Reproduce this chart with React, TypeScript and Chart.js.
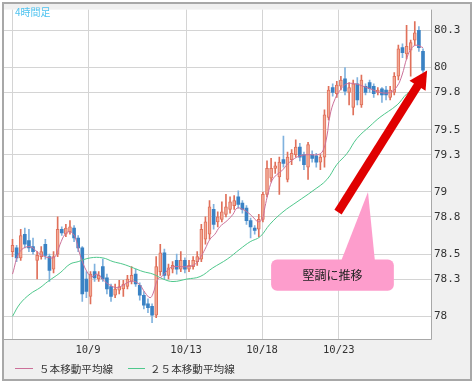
import React, { useEffect, useRef } from 'react';
import { Chart, registerables } from 'chart.js';

Chart.register(...registerables);

// ---- candle data (4-hour bars) ----
const opens = [
  78.52, 78.55, 78.47, 78.66, 78.61, 78.56, 78.45, 78.48, 78.58, 78.48,
  78.38, 78.50, 78.70, 78.66, 78.68, 78.71, 78.63, 78.55, 78.30, 78.16,
  78.36, 78.30, 78.40, 78.31, 78.24, 78.17, 78.21, 78.22, 78.24, 78.28,
  78.34, 78.25, 78.17, 78.10, 78.08, 78.01, 78.36, 78.51, 78.33, 78.38,
  78.45, 78.38, 78.45, 78.38, 78.40, 78.44, 78.46, 78.62, 78.66, 78.86,
  78.76, 78.78, 78.82, 78.86, 78.89, 78.96, 78.91, 78.87, 78.77, 78.71,
  78.70, 78.78, 78.98, 79.11, 79.19, 79.12, 79.26, 79.10, 79.26, 79.30,
  79.36, 79.30, 79.20, 79.30, 79.29, 79.24, 79.28, 79.60, 79.84, 79.79,
  79.85, 79.91, 79.80, 79.68, 79.87, 79.70, 79.85, 79.88, 79.85, 79.80,
  79.83, 79.82, 79.76, 79.80, 79.93, 80.16, 80.11, 80.14, 80.22, 80.30,
  80.13,
];
const highs = [
  78.62, 78.57, 78.70, 78.71, 78.70, 78.63, 78.52, 78.56, 78.62, 78.50,
  78.52, 78.80, 78.72, 78.74, 78.77, 78.73, 78.65, 78.56, 78.36, 78.36,
  78.42, 78.36, 78.46, 78.34, 78.26, 78.26, 78.29, 78.29, 78.33, 78.40,
  78.38, 78.27, 78.20, 78.14, 78.10, 78.48, 78.58, 78.54, 78.42, 78.44,
  78.50, 78.52, 78.47, 78.45, 78.48, 78.52, 78.74, 78.80, 78.93, 78.90,
  78.84, 78.92, 78.98, 78.96, 78.97, 79.01, 78.93, 78.89, 78.79, 78.73,
  78.82, 79.00, 79.25, 79.27, 79.24, 79.28, 79.45, 79.32, 79.34, 79.42,
  79.39, 79.32, 79.40, 79.33, 79.31, 79.30, 79.66, 79.85, 79.87, 79.89,
  79.93, 80.00, 79.88, 79.90, 79.92, 79.94, 79.87, 79.90, 79.87, 79.84,
  79.84, 79.85, 79.85, 79.96, 80.18, 80.19, 80.34, 80.22, 80.37, 80.33,
  80.15,
];
const lows = [
  78.48, 78.44, 78.45, 78.55, 78.52, 78.50, 78.30, 78.46, 78.46, 78.28,
  78.35, 78.48, 78.65, 78.64, 78.66, 78.60, 78.52, 78.12, 78.15, 78.10,
  78.28, 78.28, 78.28, 78.18, 78.12, 78.15, 78.18, 78.16, 78.22, 78.26,
  78.24, 78.13, 78.06, 78.03, 77.95, 77.99, 78.33, 78.30, 78.30, 78.35,
  78.34, 78.36, 78.35, 78.36, 78.38, 78.41, 78.44, 78.58, 78.62, 78.70,
  78.72, 78.76, 78.80, 78.83, 78.86, 78.87, 78.83, 78.74, 78.63, 78.66,
  78.64, 78.76, 78.96, 79.08, 79.15, 78.98, 79.20, 79.08, 79.22, 79.28,
  79.25, 79.18, 79.10, 79.24, 79.20, 79.18, 79.20, 79.58, 79.77, 79.76,
  79.82, 79.78, 79.70, 79.62, 79.70, 79.68, 79.78, 79.80, 79.76, 79.78,
  79.72, 79.74, 79.74, 79.78, 79.90, 80.08, 80.07, 79.93, 80.18, 80.13,
  79.96,
];
const closes = [
  78.57, 78.47, 78.65, 78.58, 78.55, 78.52, 78.49, 78.52, 78.49, 78.37,
  78.48, 78.70, 78.67, 78.71, 78.72, 78.63, 78.55, 78.18, 78.20, 78.34,
  78.31, 78.33, 78.30, 78.22, 78.16, 78.22, 78.24, 78.26, 78.30, 78.33,
  78.26, 78.17, 78.09, 78.07, 78.01, 78.40, 78.51, 78.33, 78.39, 78.41,
  78.38, 78.45, 78.38, 78.41, 78.45, 78.48, 78.70, 78.76, 78.88, 78.74,
  78.80, 78.84, 78.88, 78.92, 78.93, 78.90, 78.86, 78.77, 78.72, 78.69,
  78.78, 78.98, 79.19, 79.19, 79.21, 79.24, 79.23, 79.28, 79.31, 79.36,
  79.28, 79.22, 79.38, 79.27, 79.24, 79.28, 79.62, 79.82, 79.80, 79.86,
  79.90, 79.81, 79.84, 79.87, 79.74, 79.90, 79.80, 79.83, 79.79, 79.82,
  79.78, 79.78, 79.82, 79.93, 80.15, 80.12, 80.17, 80.20, 80.28, 80.16,
  79.98,
];

// ---- moving averages (bar index, price) ----
const ma5X = [
  0, 1.8, 4.3, 6.7, 9.1, 10.4, 11.6, 12.8, 14.0, 15.2, 16.4, 18.1, 19.4, 20.6,
  22.5, 23.8, 25.5, 26.9, 28.6, 29.8, 31.1, 32.3, 33.5, 34.2, 35.4, 36.4, 38.4,
  39.6, 42.8, 44.5, 45.7, 46.9, 48.1, 49.3, 50.5, 52.3, 53.7, 54.7, 56.1, 57.9,
  59.1, 59.8, 60.8, 61.5, 62.2, 63.2, 64.4, 65.6, 66.9, 68.3, 70.0, 72.0, 74.4,
  75.6, 76.6, 77.3, 78.6, 80.3, 81.5, 83.4, 85.4, 87.1, 89.5, 92.0, 93.7, 94.9,
  96.1, 97.3, 98.5, 100,
];
const ma5Y = [
  78.34, 78.52, 78.56, 78.50, 78.47, 78.48, 78.58, 78.66, 78.68, 78.64, 78.50,
  78.36, 78.32, 78.34, 78.28, 78.25, 78.23, 78.25, 78.28, 78.28, 78.25, 78.19,
  78.15, 78.18, 78.30, 78.32, 78.39, 78.40, 78.40, 78.42, 78.47, 78.54, 78.62,
  78.66, 78.72, 78.77, 78.82, 78.87, 78.86, 78.82, 78.78, 78.76, 78.78, 78.88,
  78.98, 79.09, 79.14, 79.17, 79.22, 79.26, 79.29, 79.30, 79.30, 79.33, 79.45,
  79.61, 79.75, 79.84, 79.87, 79.87, 79.85, 79.83, 79.80, 79.80, 79.85, 79.94,
  80.08, 80.16, 80.18, 80.16,
];
const ma25X = [
  0, 1.8, 4.3, 6.7, 8.6, 11.6, 14.0, 16.0, 18.9, 22.0, 24.5, 26.9, 29.4, 31.8,
  34.2, 36.7, 39.1, 42.5, 45.7, 48.8, 52.3, 55.4, 57.9, 60.3, 62.7, 65.9, 69.3,
  73.2, 76.6, 79.0, 81.5, 83.9, 87.1, 89.5, 93.7, 96.1, 100,
];
const ma25Y = [
  78.00, 78.10, 78.18, 78.23, 78.28, 78.35, 78.42, 78.44, 78.47, 78.47, 78.44,
  78.42, 78.39, 78.36, 78.34, 78.30, 78.28, 78.30, 78.32, 78.39, 78.46, 78.54,
  78.60, 78.64, 78.74, 78.84, 78.92, 79.01, 79.10, 79.22, 79.31, 79.43, 79.53,
  79.60, 79.70, 79.79, 79.88,
];

// ---- axis ticks ----
const xTickPos = [0, 18.4, 42.3, 60.8, 79.5];
const xTickLabels = ['', '10/9', '10/13', '10/18', '10/23'];
const yTicks = [78, 78.3, 78.5, 78.8, 79, 79.3, 79.5, 79.8, 80, 80.3];
const seriesNames = ['５本移動平均線', '２５本移動平均線'];
const titleText = '4時間足';
const calloutText = '堅調に推移';

// annotation anchors in data space: [bar index, price]
const arrowFrom = [79.3, 78.838];
const arrowTo = [101.0, 79.976];
const calloutBox = [63.0, 78.458, 92.9, 78.206];
const calloutApex = [86.6, 79.0];
const calloutBase = [80.0, 88.3];

const UP_FILL = '#f2a995';
const UP_LINE = '#e0705a';
const DOWN_FILL = '#3a82c4';
const DOWN_WICK = '#80b2de';
const MA5_COLOR = '#cc7099';
const MA25_COLOR = '#4fc88c';
const GRID = '#d4d4d4';
const FRAME = '#a8a8a8';

const App: React.FC = () => {
  const ref = useRef<HTMLCanvasElement | null>(null);

  useEffect(() => {
    document.body.style.margin = '0';
    const canvas = ref.current;
    if (!canvas) return;
    const idx = opens.map((_, i) => i);
    const isUp = idx.map((i) => closes[i] >= opens[i]);

    const decor = {
      id: 'decor',
      beforeDraw(chart: any) {
        const { ctx, chartArea: a, width, height } = chart;
        ctx.save();
        ctx.fillStyle = '#ffffff';
        ctx.fillRect(0, 0, width, height);
        ctx.fillStyle = '#f0f0f0';
        ctx.fillRect(3, 3, 468, 377);
        ctx.fillStyle = '#ffffff';
        ctx.fillRect(a.left, a.top, a.right - a.left, a.bottom - a.top);
        ctx.restore();
      },
      afterDraw(chart: any) {
        const { ctx, chartArea: a } = chart;
        const xs = chart.scales.x;
        const ys = chart.scales.y;
        ctx.save();
        // plot borders
        ctx.strokeStyle = FRAME;
        ctx.lineWidth = 1;
        ctx.beginPath();
        ctx.moveTo(a.right + 0.5, a.top);
        ctx.lineTo(a.right + 0.5, a.bottom + 0.5);
        ctx.lineTo(a.left, a.bottom + 0.5);
        ctx.stroke();
        // outer frame
        ctx.lineWidth = 2;
        ctx.strokeRect(3, 3, 468, 377);

        // title
        ctx.fillStyle = '#4fc3f0';
        ctx.font = '10px "Noto Sans CJK JP"';
        ctx.textBaseline = 'middle';
        ctx.textAlign = 'left';
        ctx.fillText(titleText, 15, 12);

        // arrow
        const tx = xs.getPixelForValue(arrowFrom[0]);
        const ty = ys.getPixelForValue(arrowFrom[1]);
        const hx = xs.getPixelForValue(arrowTo[0]);
        const hy = ys.getPixelForValue(arrowTo[1]);
        const dx = hx - tx, dy = hy - ty;
        const len = Math.hypot(dx, dy);
        const ux = dx / len, uy = dy / len;
        const nx = -uy, ny = ux;
        const headLen = 18, headHalf = 9.5;
        const bx = hx - ux * headLen, by = hy - uy * headLen;
        ctx.strokeStyle = '#e00000';
        ctx.fillStyle = '#e00000';
        ctx.lineWidth = 8.5;
        ctx.lineCap = 'butt';
        ctx.beginPath();
        ctx.moveTo(tx, ty);
        ctx.lineTo(bx + ux, by + uy);
        ctx.stroke();
        ctx.beginPath();
        ctx.moveTo(hx, hy);
        ctx.lineTo(bx + nx * headHalf, by + ny * headHalf);
        ctx.lineTo(bx - nx * headHalf, by - ny * headHalf);
        ctx.closePath();
        ctx.fill();

        // callout
        const rx1 = xs.getPixelForValue(calloutBox[0]);
        const ry1 = ys.getPixelForValue(calloutBox[1]);
        const rx2 = xs.getPixelForValue(calloutBox[2]);
        const ry2 = ys.getPixelForValue(calloutBox[3]);
        ctx.fillStyle = '#fd9dcc';
        ctx.beginPath();
        ctx.moveTo(xs.getPixelForValue(calloutApex[0]), ys.getPixelForValue(calloutApex[1]));
        ctx.lineTo(xs.getPixelForValue(calloutBase[1]), ry1 + 2);
        ctx.lineTo(xs.getPixelForValue(calloutBase[0]), ry1 + 2);
        ctx.closePath();
        ctx.fill();
        ctx.beginPath();
        (ctx as any).roundRect(rx1, ry1, rx2 - rx1, ry2 - ry1, 6);
        ctx.fill();
        ctx.fillStyle = '#222222';
        ctx.font = '12px "Noto Sans CJK JP"';
        ctx.textAlign = 'center';
        ctx.fillText(calloutText, (rx1 + rx2) / 2, (ry1 + ry2) / 2 + 0.5);

        // legend
        ctx.textAlign = 'left';
        ctx.font = '10.6px "Noto Sans CJK JP"';
        const items = [
          { c: MA5_COLOR, x1: 15, x2: 33, tx: 39 },
          { c: MA25_COLOR, x1: 128, x2: 145, tx: 150 },
        ];
        items.forEach((it, k) => {
          ctx.strokeStyle = it.c;
          ctx.lineWidth = 1;
          ctx.beginPath();
          ctx.moveTo(it.x1, 368.5);
          ctx.lineTo(it.x2, 368.5);
          ctx.stroke();
          ctx.fillStyle = '#333333';
          ctx.fillText(seriesNames[k], it.tx, 368.5);
        });
        ctx.restore();
      },
    };

    const chart = new Chart(canvas, {
      type: 'bar',
      data: {
        datasets: [
          {
            type: 'line',
            label: seriesNames[0],
            data: ma5X.map((x, i) => ({ x, y: ma5Y[i] })),
            borderColor: MA5_COLOR,
            borderWidth: 1,
            pointRadius: 0,
            tension: 0.4,
            order: 0,
          } as any,
          {
            type: 'line',
            label: seriesNames[1],
            data: ma25X.map((x, i) => ({ x, y: ma25Y[i] })),
            borderColor: MA25_COLOR,
            borderWidth: 1,
            pointRadius: 0,
            tension: 0.4,
            order: 0,
          } as any,
          {
            type: 'bar',
            label: 'wick',
            data: idx.map((i) => ({ x: i, y: [lows[i], highs[i]] })),
            backgroundColor: idx.map((i) => (isUp[i] ? UP_LINE : DOWN_WICK)),
            barThickness: 1,
            grouped: false,
            order: 2,
          } as any,
          {
            type: 'bar',
            label: 'body',
            data: idx.map((i) => ({ x: i, y: [opens[i], closes[i]] })),
            backgroundColor: idx.map((i) => (isUp[i] ? UP_FILL : DOWN_FILL)),
            borderColor: idx.map((i) => (isUp[i] ? UP_LINE : DOWN_FILL)),
            borderWidth: idx.map((i) => (isUp[i] ? 1 : 0)),
            borderSkipped: false,
            barThickness: 3,
            minBarLength: 1,
            grouped: false,
            order: 1,
          } as any,
        ],
      },
      options: {
        animation: false,
        responsive: true,
        maintainAspectRatio: false,
        layout: { padding: { left: 4, top: 4, right: 0, bottom: 0 } },
        plugins: { legend: { display: false }, tooltip: { enabled: false } },
        scales: {
          x: {
            type: 'linear',
            min: -2.07,
            max: 101.95,
            offset: false,
            grid: { color: GRID, offset: false, drawTicks: false, lineWidth: 1 },
            border: { display: false },
            afterBuildTicks: (s: any) => {
              s.ticks = xTickPos.map((v) => ({ value: v }));
            },
            afterFit: (s: any) => {
              s.height = 45;
            },
            ticks: {
              autoSkip: false,
              maxRotation: 0,
              padding: 5,
              color: '#333333',
              font: { family: '"DejaVu Sans Mono"', size: 10.5 },
              callback: (_v: any, i: number) => xTickLabels[i],
            },
          },
          y: {
            type: 'linear',
            position: 'right',
            min: 77.818,
            max: 80.466,
            grid: { color: GRID, drawTicks: false, lineWidth: 1 },
            border: { display: false },
            afterBuildTicks: (s: any) => {
              s.ticks = yTicks.map((v) => ({ value: v }));
            },
            afterFit: (s: any) => {
              s.width = 43;
            },
            ticks: {
              padding: 3,
              color: '#333333',
              font: { family: '"DejaVu Sans Mono"', size: 11 },
              callback: (v: any) => String(v),
            },
          },
        },
      },
      plugins: [decor],
    });
    return () => chart.destroy();
  }, []);

  return (
    <div style={{ width: 474, height: 384, position: 'relative' }}>
      <canvas ref={ref} />
    </div>
  );
};

export default App;
